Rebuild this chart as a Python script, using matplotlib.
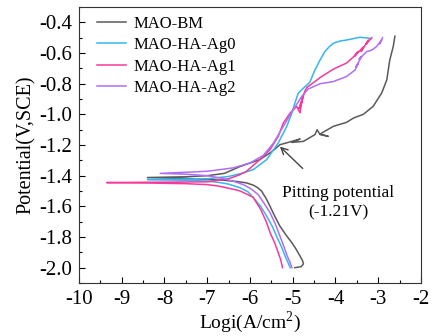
"""Potentiodynamic polarization (Tafel) curves for the MAO coatings."""

import matplotlib

matplotlib.use("Agg")
import matplotlib.pyplot as plt
from matplotlib.ticker import MultipleLocator

# log i (A/cm2) and potential (V vs SCE), cathodic end -> Ecorr -> anodic end
bm_logi = [-4.95, -4.80, -4.75, -4.77, -4.83, -4.92, -5.02, -5.15, -5.30, -5.42, -5.53, -5.62,
           -5.73, -5.82, -5.92, -6.08, -6.3, -6.6, -7.3, -8.4,
           -7.5, -7.0, -6.6, -6.23, -5.77, -5.5, -5.35, -5.30, -4.83, -5.02, -4.75, -4.48,
           -4.43, -4.36, -4.17, -4.36, -4.05, -3.74, -3.58, -3.35, -3.12, -2.92, -2.80,
           -2.73, -2.65, -2.61]
bm_e = [-2.0, -1.993, -1.975, -1.955, -1.924, -1.88, -1.837, -1.79, -1.729, -1.665, -1.60, -1.55,
        -1.50, -1.478, -1.462, -1.447, -1.438, -1.43, -1.42, -1.412,
        -1.407, -1.40, -1.385, -1.34, -1.295, -1.245, -1.21, -1.198, -1.161, -1.183, -1.176, -1.132,
        -1.10, -1.132, -1.143, -1.128, -1.078, -1.052, -1.024, -1.0, -0.948, -0.861, -0.775,
        -0.645, -0.558, -0.49]

ag0_logi = [-5.06, -5.12, -5.18, -5.27, -5.38, -5.48, -5.61, -5.75, -5.92, -6.05, -6.23, -6.5,
            -6.7, -7.0, -7.5, -8.4,
            -7.0, -6.5, -6.2, -5.92, -5.61, -5.34, -5.14, -5.02, -4.95, -4.87, -4.75,
            -4.60, -4.48, -4.36, -4.25, -4.15, -4.05, -3.9, -3.74, -3.43, -3.19]
ag0_e = [-2.0, -1.96, -1.924, -1.86, -1.794, -1.73, -1.664, -1.60, -1.544, -1.505, -1.479, -1.455,
         -1.445, -1.435, -1.43, -1.425,
         -1.42, -1.405, -1.385, -1.36, -1.295, -1.187, -1.078, -0.991, -0.926, -0.861, -0.829,
         -0.79, -0.71, -0.645, -0.591, -0.56, -0.536, -0.522, -0.515, -0.497, -0.504]

ag1_logi = [-5.24, -5.28, -5.34, -5.42, -5.53, -5.62, -5.75, -5.85, -5.93, -6.08, -6.23, -6.38,
            -6.55, -6.75, -7.01, -7.5, -8.57, -9.35,
            -8.5, -7.0, -6.5, -6.25, -6.08, -5.77, -5.53, -5.34, -5.22, -5.06, -4.91,
            -4.83, -4.79, -4.85, -4.76, -4.80, -4.72, -4.67, -4.36, -4.05, -3.74, -3.58,
            -3.47, -3.55, -3.35, -3.40, -3.23, -3.28, -3.15]
ag1_e = [-2.0, -1.95, -1.902, -1.84, -1.772, -1.70, -1.62, -1.575, -1.54, -1.52, -1.50, -1.489,
         -1.479, -1.467, -1.458, -1.452, -1.447, -1.445,
         -1.443, -1.44, -1.42, -1.395, -1.371, -1.295, -1.23, -1.144, -1.056, -0.991, -0.948,
         -0.99, -0.92, -0.96, -0.88, -0.93, -0.85, -0.825, -0.76, -0.705, -0.665, -0.625,
         -0.59, -0.62, -0.56, -0.59, -0.515, -0.54, -0.50]

ag2_logi = [-5.02, -5.07, -5.13, -5.21, -5.30, -5.40, -5.53, -5.67, -5.81, -5.98, -6.16, -6.35,
            -6.6, -7.0, -7.5, -8.1,
            -7.0, -6.39, -6.0, -5.69, -5.45, -5.22, -4.99, -4.79, -4.64, -4.36, -4.05,
            -3.74, -3.54, -3.47, -3.52, -3.39, -3.45, -3.27, -3.15, -3.04, -2.92, -2.97, -2.90]
ag2_e = [-2.0, -1.96, -1.924, -1.86, -1.794, -1.72, -1.642, -1.58, -1.523, -1.485, -1.458, -1.44,
         -1.42, -1.40, -1.39, -1.385,
         -1.371, -1.349, -1.317, -1.268, -1.187, -1.078, -0.97, -0.883, -0.835, -0.80, -0.786,
         -0.753, -0.71, -0.667, -0.69, -0.623, -0.64, -0.591, -0.58, -0.558, -0.515, -0.54, -0.50]

labels = ["MAO-BM", "MAO-HA-Ag0", "MAO-HA-Ag1", "MAO-HA-Ag2"]
colors = ["#5a5a5a", "#35b6ee", "#f8389a", "#b06ef8"]

pitting_point = (-5.30, -1.21)
pitting_text_pos = (-3.94, -1.575)

plt.rcParams["font.family"] = ["Liberation Serif", "DejaVu Serif"]
plt.rcParams["mathtext.fontset"] = "custom"
plt.rcParams["mathtext.rm"] = "Liberation Serif"

fig = plt.figure(figsize=(4.35, 3.36), dpi=100)
ax = fig.add_axes([0.1816, 0.1577, 0.7862, 0.8213])

series = [(bm_logi, bm_e), (ag0_logi, ag0_e), (ag1_logi, ag1_e), (ag2_logi, ag2_e)]
for (x, y), label, color in zip(series, labels, colors):
    ax.plot(x, y, color=color, linewidth=1.1, label=label)

ax.annotate(
    "Pitting potential\n(-1.21V)",
    xy=pitting_point,
    xytext=pitting_text_pos,
    ha="center",
    va="center",
    fontsize=12.5,
    linespacing=1.3,
    arrowprops=dict(arrowstyle="->", color="#444444", lw=1.0, shrinkA=14, shrinkB=0,
                    mutation_scale=12),
)

ax.set_xlim(-10, -2)
ax.set_ylim(-2.1, -0.3)
ax.xaxis.set_major_locator(MultipleLocator(1))
ax.xaxis.set_minor_locator(MultipleLocator(0.5))
ax.yaxis.set_major_locator(MultipleLocator(0.2))
ax.yaxis.set_minor_locator(MultipleLocator(0.1))
ax.set_xticklabels([f"{v:g}" for v in ax.get_xticks()])
ax.set_yticklabels([f"{v:.1f}" for v in ax.get_yticks()])
ax.tick_params(which="both", direction="in", top=False, right=False, labelsize=15)
ax.tick_params(which="major", length=4, width=0.8, pad=5)
ax.tick_params(which="minor", length=2, width=0.8)
for spine in ax.spines.values():
    spine.set_linewidth(0.8)
    spine.set_color("#333333")

ax.set_xlabel("Logi(A/cm$^2$)", fontsize=14, labelpad=0)
ax.set_ylabel("Potential(V,SCE)", fontsize=14.5, labelpad=2)

ax.legend(
    loc="upper left",
    bbox_to_anchor=(0.053, 0.969),
    frameon=False,
    fontsize=12,
    handlelength=1.75,
    handletextpad=0.45,
    labelspacing=0.33,
    borderaxespad=0,
    borderpad=0,
)

fig.savefig("out.png", dpi=100)
